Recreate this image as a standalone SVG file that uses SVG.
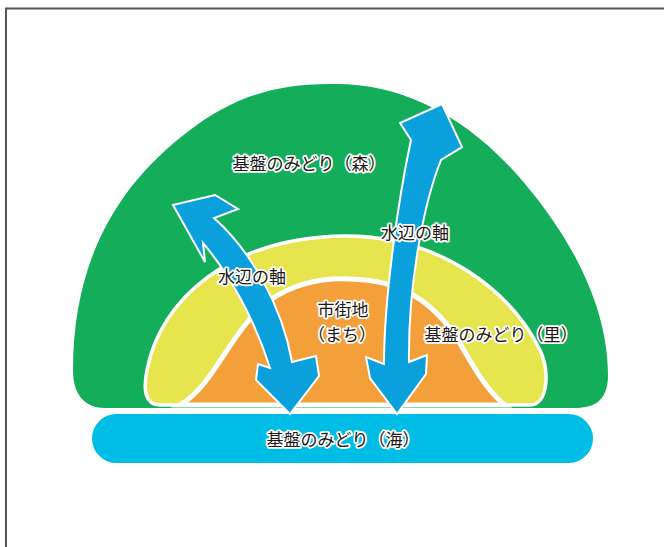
<svg xmlns="http://www.w3.org/2000/svg" width="664" height="547" viewBox="0 0 664 547">
<style>
.lbl{font-family:"Noto Sans CJK JP","Noto Sans",sans-serif;font-size:17px;fill:#231815;stroke:#ffffff;stroke-width:3.5px;paint-order:stroke;stroke-linejoin:round;text-anchor:middle}
.arrow{fill:#0aa0dc;stroke:#ffffff;stroke-width:2;stroke-linejoin:miter}
</style>
<rect width="664" height="547" fill="#ffffff"/>
<g id="frame" fill="none" stroke="#555555" stroke-width="2">
<path d="M6,547 V8.5 H664"/>
</g>
<g id="forest">
<path d="M105,408 C85,408 73,395 73,370 C73,270 110,190 190,130 C230,100 270,84 330,84 C400,82 470,115 530,190 C575,245 608,310 608,375 C608,400 595,408 575,408 Z" fill="#14ae5a"/>
<text class="lbl" x="309" y="170">基盤のみどり（森）</text>
</g>
<g id="sato">
<path d="M160,405 C145,405 143,390 147,370 C160,300 230,237 345,236 C440,236 510,290 540,350 C550,372 548,405 530,405 Z" fill="#e6e54e" stroke="#ffffff" stroke-width="3.5"/>
</g>
<g id="machi">
<path d="M180,405 C215,385 230,330 270,300 C300,280 330,278 350,279 C400,280 430,300 455,335 C470,360 485,390 505,405 Z" fill="#f3a03a" stroke="#ffffff" stroke-width="5"/>
<text class="lbl" x="343" y="316">市街地</text>
<text class="lbl" x="342" y="341">（まち）</text>
</g>
<g id="umi">
<rect x="92" y="414" width="501" height="49" rx="24.5" fill="#00bde6"/>
<text class="lbl" x="343" y="446">基盤のみどり（海）</text>
</g>
<g id="connectors">
<path class="arrow" d="M173,205 L215,195 L238,209 L214,218 C250,250 282,305 292,362 L316,356 L319,376 L290,414 L256,380 L258,364 L270,368 C255,320 230,275 203,243 L205,262 Z"/>
<path class="arrow" d="M442,104 L462,147 L441,160 C425,200 408,280 409,362 L427,355 L426,374 L397,414 L370,378 L366,357 L384,364 C384,300 398,200 411,140 L400,123 Z"/>
</g>
<g id="labels">
<text class="lbl" x="252" y="283">水辺の軸</text>
<text class="lbl" x="415" y="239">水辺の軸</text>
<text class="lbl" x="501" y="341">基盤のみどり（里）</text>
</g>
</svg>
